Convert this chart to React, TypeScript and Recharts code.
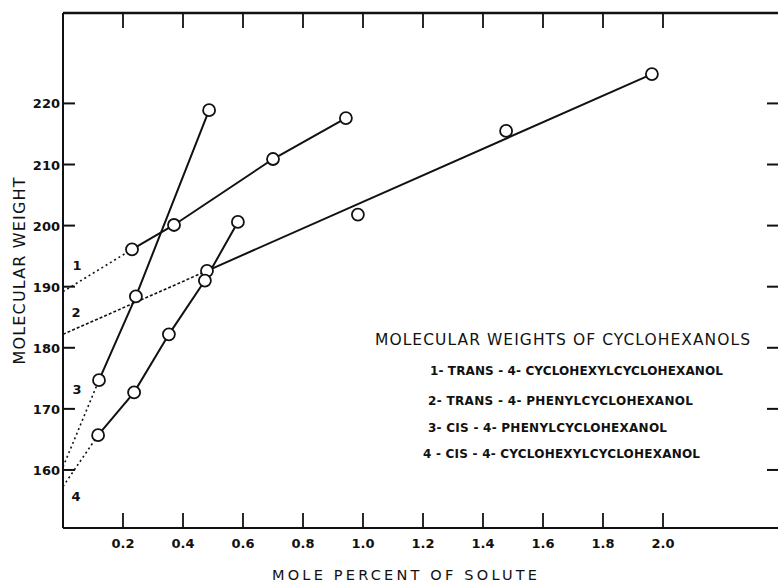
import { ComposedChart, Line, Scatter, XAxis, YAxis } from 'recharts';

// mole percent vs molecular weight
const s1X = [0.23, 0.37, 0.7, 0.943];
const s1Y = [196.1, 200.1, 210.9, 217.6];
const s2X = [0.48, 0.983, 1.477, 1.963];
const s2Y = [192.6, 201.8, 215.5, 224.8];
const s3X = [0.12, 0.243, 0.487];
const s3Y = [174.7, 188.4, 218.9];
const s4X = [0.117, 0.237, 0.353, 0.473, 0.583];
const s4Y = [165.7, 172.7, 182.2, 191.0, 200.6];
// dotted extrapolations to zero concentration
const intercepts = [189.2, 182.2, 160.5, 157.3];

const xTicks = [0.2, 0.4, 0.6, 0.8, 1.0, 1.2, 1.4, 1.6, 1.8, 2.0];
const xTickLabels = ['0.2', '0.4', '0.6', '0.8', '1.0', '1.2', '1.4', '1.6', '1.8', '2.0'];
const yTicks = [160, 170, 180, 190, 200, 210, 220];

const legendTitle = 'MOLECULAR WEIGHTS OF CYCLOHEXANOLS';
const legendLines = [
  '1- TRANS - 4- CYCLOHEXYLCYCLOHEXANOL',
  '2- TRANS - 4- PHENYLCYCLOHEXANOL',
  '3- CIS - 4- PHENYLCYCLOHEXANOL',
  '4 - CIS - 4- CYCLOHEXYLCYCLOHEXANOL',
];
const curveLabels = ['1', '2', '3', '4'];

const pts = (xs: number[], ys: number[]) => xs.map((x, i) => ({ x, y: ys[i] }));
const series = [pts(s1X, s1Y), pts(s2X, s2Y), pts(s3X, s3Y), pts(s4X, s4Y)];
const dotted = series.map((s, i) => [{ x: 0, y: intercepts[i] }, s[0]]);
const solid = [series[0], [series[1][0], series[1][series[1].length - 1]], series[2], series[3]];

const INK = '#111';
const FONT = '"DejaVu Sans", sans-serif';

const LeftTick = (p: any) => (
  <g>
    <line x1={p.x} x2={p.x + 12} y1={p.y} y2={p.y} stroke={INK} strokeWidth={2} />
    <text x={p.x - 3} y={p.y + 5} textAnchor="end" fontSize={13} fontWeight="bold" fontFamily={FONT} fill={INK}>
      {p.payload.value}
    </text>
  </g>
);

const RightTick = (p: any) => (
  <line x1={p.x} x2={p.x - 16} y1={p.y} y2={p.y} stroke={INK} strokeWidth={2} />
);

const TopTick = (p: any) => (
  <line x1={p.x} x2={p.x} y1={p.y} y2={p.y + 15} stroke={INK} strokeWidth={1.8} />
);

const BottomTick = (p: any) => (
  <g>
    <line x1={p.x} x2={p.x} y1={p.y} y2={p.y - 15} stroke={INK} strokeWidth={1.8} />
    <text x={p.x} y={p.y + 20} textAnchor="middle" fontSize={13} fontWeight="bold" fontFamily={FONT} fill={INK}>
      {xTickLabels[xTicks.indexOf(p.payload.value)] ?? p.payload.value}
    </text>
  </g>
);

const Ring = (p: any) => (
  <circle cx={p.cx} cy={p.cy} r={6} fill="#fff" stroke={INK} strokeWidth={1.8} />
);

const legendX = [430, 428, 428, 423];
const legendY = [375, 405, 432, 458];
const legendW = [293, 265, 239, 277];
const curveLabelPos = [[77, 270], [76, 317], [77, 394], [76, 501]];

export default function App() {
  return (
    <div style={{ position: 'absolute', left: 0, top: 0, width: 778, height: 585, overflow: 'hidden', background: '#fff' }}>
      <ComposedChart width={790} height={585} margin={{ top: 8, right: 2, bottom: 0, left: 8 }}>
        <XAxis
          dataKey="x" type="number" domain={[0, 2.4]} ticks={xTicks} allowDataOverflow
          height={57} tickSize={0} tickMargin={0} tickLine={false}
          axisLine={{ stroke: INK, strokeWidth: 2 }} tick={<BottomTick />} interval={0}
        />
        <XAxis
          xAxisId="top" orientation="top" dataKey="x" type="number" domain={[0, 2.4]} ticks={xTicks}
          allowDataOverflow height={5} tickSize={0} tickMargin={0} tickLine={false}
          axisLine={{ stroke: INK, strokeWidth: 2.5 }} tick={<TopTick />} interval={0}
        />
        <YAxis
          dataKey="y" type="number" domain={[150.5, 234.8]} ticks={yTicks} allowDataOverflow
          width={55} tickSize={0} tickMargin={0} tickLine={false}
          axisLine={{ stroke: INK, strokeWidth: 2 }} tick={<LeftTick />} interval={0}
        />
        <YAxis
          yAxisId="right" orientation="right" dataKey="y" type="number" domain={[150.5, 234.8]}
          ticks={yTicks} allowDataOverflow width={5} tickSize={0} tickMargin={0} tickLine={false}
          axisLine={false} tick={<RightTick />} interval={0}
        />
        {dotted.map((d, i) => (
          <Line
            key={`d${i}`} data={d} dataKey="y" type="linear" dot={false} stroke={INK}
            strokeWidth={1.6} strokeDasharray={i === 1 ? '3 2' : '2 3'} isAnimationActive={false}
          />
        ))}
        {solid.map((d, i) => (
          <Line
            key={`s${i}`} data={d} dataKey="y" type="linear" dot={false} stroke={INK}
            strokeWidth={2} isAnimationActive={false}
          />
        ))}
        {series.map((d, i) => (
          <Scatter key={`p${i}`} data={d} dataKey="y" shape={<Ring />} isAnimationActive={false} />
        ))}
      </ComposedChart>
      <svg width={778} height={585} style={{ position: 'absolute', left: 0, top: 0, pointerEvents: 'none' }}>
        <text
          transform="translate(25 271) rotate(-90)" textAnchor="middle" fontSize={16} fontFamily={FONT} fill={INK}
          textLength={187} lengthAdjust="spacing"
        >
          MOLECULAR WEIGHT
        </text>
        <text x={272} y={580} fontSize={14.5} fontFamily={FONT} fill={INK} textLength={265} lengthAdjust="spacing">
          MOLE PERCENT OF SOLUTE
        </text>
        <text x={375} y={345} fontSize={15.5} fontFamily={FONT} fill={INK} textLength={375} lengthAdjust="spacing">
          {legendTitle}
        </text>
        {legendLines.map((t, i) => (
          <text
            key={t} x={legendX[i]} y={legendY[i]} fontSize={12} fontWeight="bold" fontFamily={FONT} fill={INK}
            textLength={legendW[i]} lengthAdjust="spacing"
          >
            {t}
          </text>
        ))}
        {curveLabels.map((t, i) => (
          <text
            key={t} x={curveLabelPos[i][0]} y={curveLabelPos[i][1]} textAnchor="middle" fontSize={13}
            fontWeight="bold" fontFamily={FONT} fill={INK}
          >
            {t}
          </text>
        ))}
      </svg>
    </div>
  );
}
